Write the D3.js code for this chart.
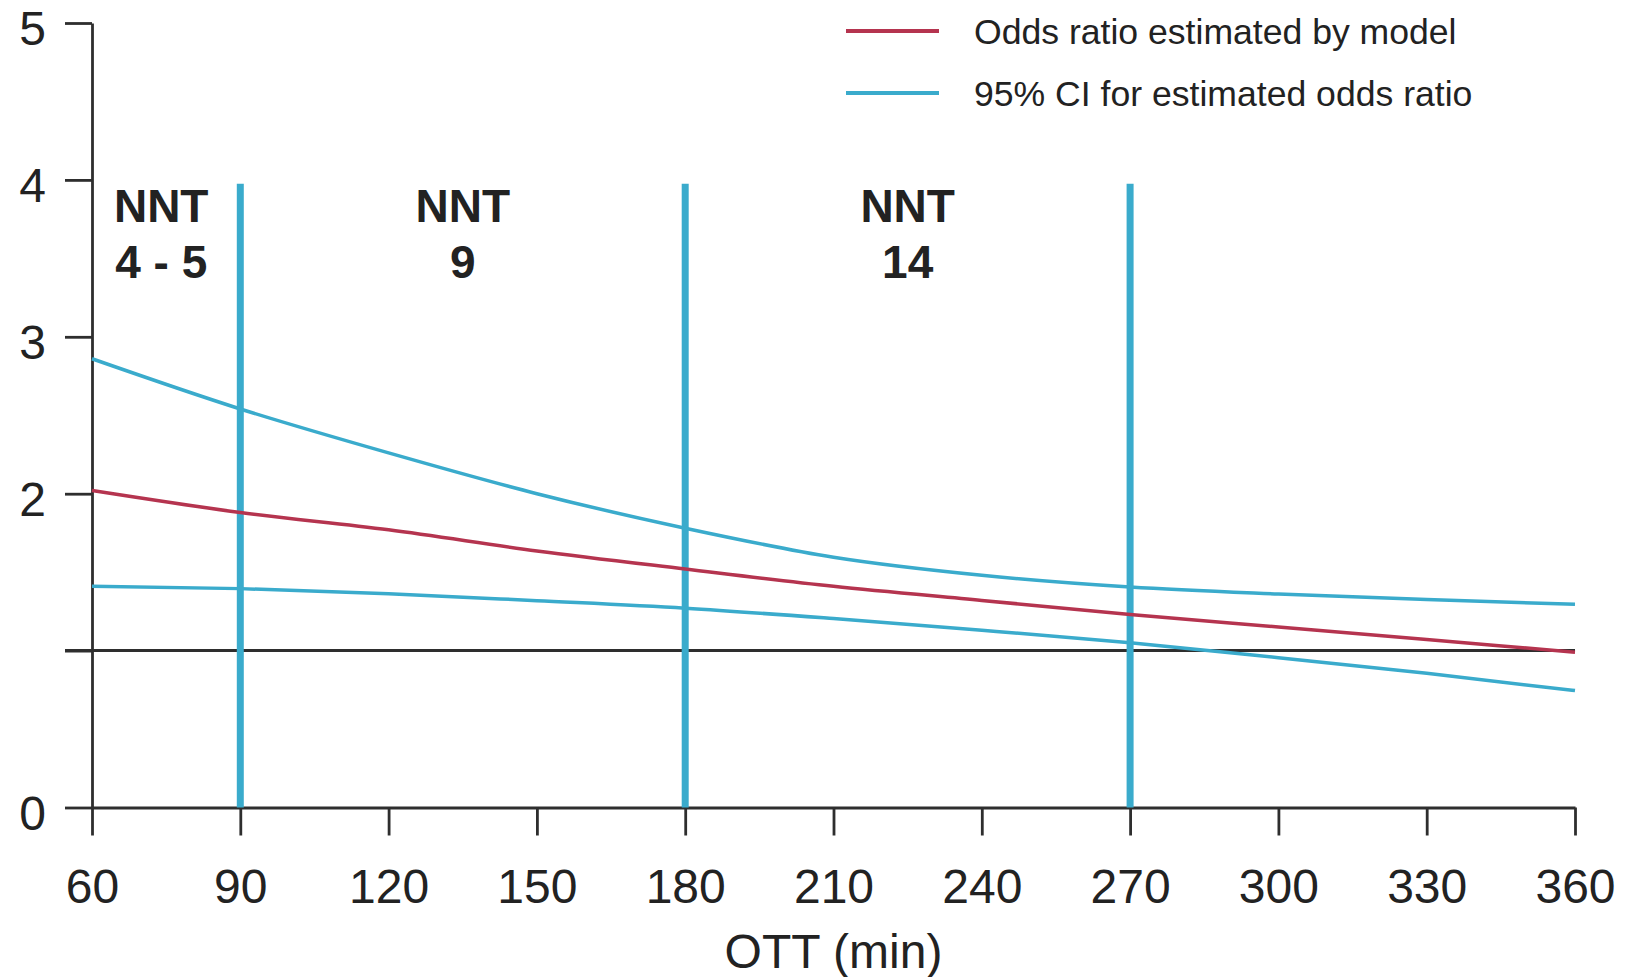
<!doctype html>
<html lang="en">
<head>
    <meta charset="UTF-8">
    <script src="https://d3js.org/d3.v7.min.js"></script>
    <title>Odds ratio vs OTT</title>
    <style>
        body { margin: 0; background: #fff; }
        text { font-family: "Liberation Sans", Arial, Helvetica, sans-serif; fill: #222; }
    </style>
</head>
<body>
<div class="container"></div>
<script>
    // data
    let ottMinutes = [60, 90, 120, 150, 180, 210, 240, 270, 300, 330, 360];
    let oddsRatio = [2.02, 1.88, 1.77, 1.635, 1.52, 1.41, 1.32, 1.23, 1.15, 1.07, 0.99];
    let ciUpper = [2.86, 2.54, 2.26, 2.0, 1.78, 1.595, 1.48, 1.405, 1.36, 1.325, 1.295];
    let ciLower = [1.41, 1.395, 1.363, 1.318, 1.27, 1.204, 1.13, 1.05, 0.955, 0.855, 0.745];

    let xTicks = [60, 90, 120, 150, 180, 210, 240, 270, 300, 330, 360];
    let yTicks = [0, 1, 2, 3, 4, 5];
    let cutoffs = [90, 180, 270];
    let cutoffTop = 3.975;
    let nntMid = [74, 135, 225];
    let nntLabels = ["4 - 5", "9", "14"];
    let legendLabels = ["Odds ratio estimated by model", "95% CI for estimated odds ratio"];

    let W = 1637, H = 977;
    let red = "#b5344f", cyan = "#3aabcc", axisColor = "#2e2e2e";

    let svg = d3.select(".container").append("svg")
        .attr("width", W)
        .attr("height", H);

    let x = d3.scaleLinear().domain([60, 360]).range([92, 1575]);
    let y = d3.scaleLinear().domain([0, 5]).range([807.5, 23]);

    // axes
    let xAxis = svg.append("g")
        .attr("transform", "translate(0," + y(0) + ")")
        .call(d3.axisBottom(x).tickValues(xTicks).tickSize(28).tickSizeOuter(0).tickPadding(33).tickFormat(d3.format("d")));
    let yAxis = svg.append("g")
        .attr("transform", "translate(" + x(60) + ",0)")
        .call(d3.axisLeft(y).tickValues(yTicks).tickSize(27).tickSizeOuter(0).tickPadding(19)
            .tickFormat(d => d === 1 ? "" : d));
    yAxis.selectAll("text").attr("dy", "0.45em");

    [xAxis, yAxis].forEach(g => {
        g.selectAll("path, line").attr("stroke", axisColor).attr("stroke-width", 2.8);
        g.selectAll("text").style("font-size", "48px").attr("fill", "#222");
    });

    // reference line at OR = 1
    svg.append("line")
        .attr("x1", x(60) - 27).attr("x2", x(360))
        .attr("y1", y(1)).attr("y2", y(1))
        .attr("stroke", axisColor).attr("stroke-width", 3);

    // cut-off lines
    svg.selectAll(".cut").data(cutoffs).enter().append("line")
        .attr("class", "cut")
        .attr("x1", d => x(d)).attr("x2", d => x(d))
        .attr("y1", y(0)).attr("y2", y(cutoffTop))
        .attr("stroke", cyan).attr("stroke-width", 7);

    // curves
    let line = d3.line()
        .x((d, i) => x(ottMinutes[i]))
        .y(d => y(d))
        .curve(d3.curveMonotoneX);

    [ciUpper, ciLower].forEach(s => {
        svg.append("path").attr("d", line(s))
            .attr("fill", "none").attr("stroke", cyan).attr("stroke-width", 3.5);
    });
    svg.append("path").attr("d", line(oddsRatio))
        .attr("fill", "none").attr("stroke", red).attr("stroke-width", 3.5);

    // NNT labels
    nntMid.forEach((m, i) => {
        let t = svg.append("text")
            .attr("text-anchor", "middle")
            .style("font-size", "46px")
            .style("font-weight", "bold")
            .attr("fill", "#111");
        t.append("tspan").attr("x", x(m)).attr("y", y(4) + 42).text("NNT");
        t.append("tspan").attr("x", x(m)).attr("y", y(4) + 98).text(nntLabels[i]);
    });

    // x axis title
    svg.append("text")
        .attr("x", x(210)).attr("y", 968)
        .attr("text-anchor", "middle")
        .style("font-size", "48px")
        .text("OTT (min)");

    // legend
    let legendColors = [red, cyan];
    legendLabels.forEach((lab, i) => {
        let ly = 31 + i * 62;
        svg.append("line")
            .attr("x1", 846).attr("x2", 939)
            .attr("y1", ly).attr("y2", ly)
            .attr("stroke", legendColors[i]).attr("stroke-width", 4);
        svg.append("text")
            .attr("x", 974).attr("y", ly + 13)
            .style("font-size", "35.6px")
            .attr("fill", "#2a2a2a")
            .text(lab);
    });
</script>
</body>
</html>
